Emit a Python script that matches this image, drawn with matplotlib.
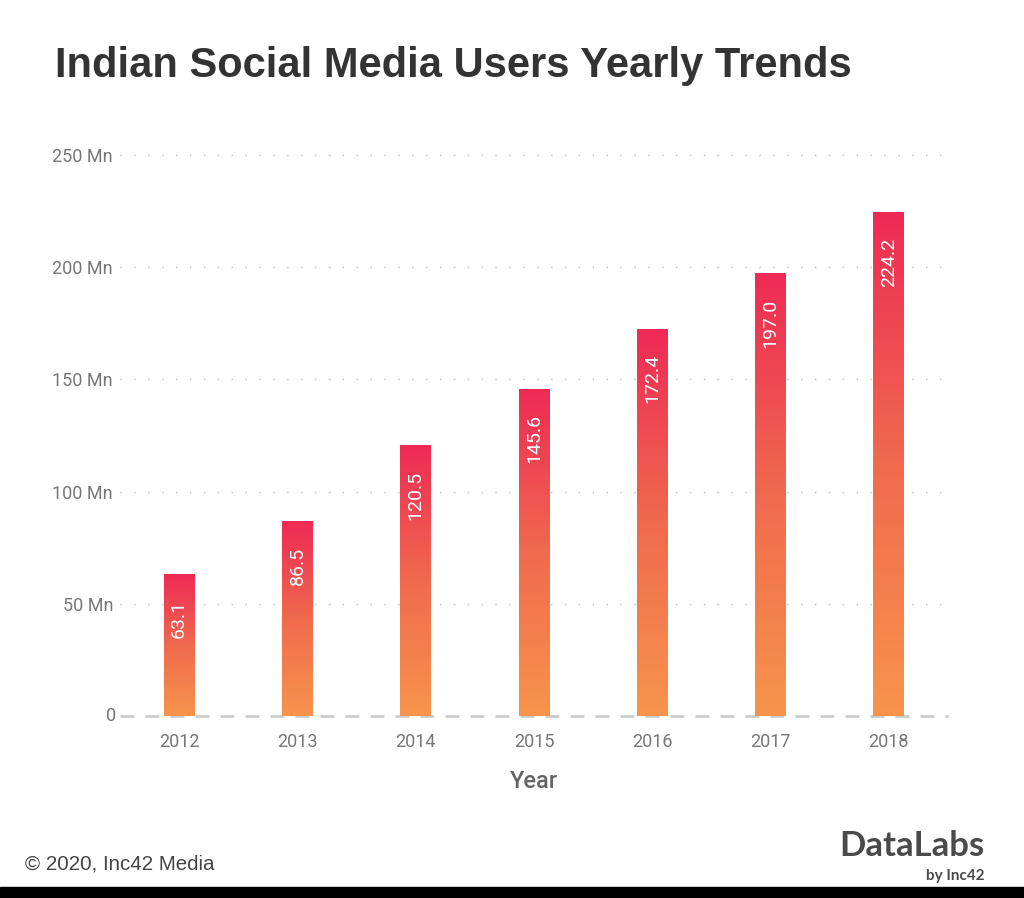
import matplotlib
matplotlib.use("Agg")
import matplotlib.pyplot as plt
import numpy as np
from matplotlib.colors import LinearSegmentedColormap

# ---------------------------------------------------------------------------
# Data
# ---------------------------------------------------------------------------
years = ["2012", "2013", "2014", "2015", "2016", "2017", "2018"]
users_mn = [63.1, 86.5, 120.5, 145.6, 172.4, 197.0, 224.2]
y_ticks = [0, 50, 100, 150, 200, 250]
y_tick_labels = ["0", "50 Mn", "100 Mn", "150 Mn", "200 Mn", "250 Mn"]

TITLE = "Indian Social Media Users Yearly Trends"
GRAD = LinearSegmentedColormap.from_list("bar", ["#F7944C", "#F06A4E", "#EE2A55"])

fig = plt.figure(figsize=(10.24, 8.98), dpi=100)
fig.patch.set_facecolor("white")

# axes placed in pixels: x 120..948, y(0)=716, y(250)=155
H = 898.0
px_per_unit = (716 - 155) / 250.0
ymax = 260
top_px = 716 - ymax * px_per_unit
ax = fig.add_axes([120 / 1024, (H - 716) / H, (948 - 120) / 1024, (716 - top_px) / H])

x = np.arange(len(years))
bar_w = 0.26
grad = np.linspace(0, 1, 256).reshape(-1, 1)

for xi, val in zip(x, users_mn):
    ax.imshow(grad, cmap=GRAD, origin="lower", aspect="auto",
              extent=[xi - bar_w / 2, xi + bar_w / 2, 0, val], zorder=3)
    ax.annotate(f"{val:.1f}", xy=(xi, val), xytext=(0, -25),
                textcoords="offset pixels", ha="center", va="top",
                rotation=90, color="white", fontsize=14, family="Roboto",
                zorder=4)

ax.set_xlim(-0.5, 6.5)
ax.set_ylim(0, ymax)

ax.set_yticks(y_ticks[1:])
ax.set_yticklabels(y_tick_labels[1:])
ax.set_xticks(x)
ax.set_xticklabels(years)
ax.tick_params(axis="both", length=0, labelsize=13, labelcolor="#777777")
ax.tick_params(axis="y", pad=5)
ax.tick_params(axis="x", pad=12)
for lab in ax.get_xticklabels() + ax.get_yticklabels():
    lab.set_family("Roboto")

ax.yaxis.grid(True, linestyle=(0, (1, 9)), color="#bbbbbb", linewidth=1.0)
ax.set_axisbelow(True)
for s in ax.spines.values():
    s.set_visible(False)

# baseline and "0" label
ax.axhline(0, color="#cccccc", linewidth=2, linestyle=(0, (5, 4)), zorder=2,
           clip_on=False)
ax.text(-0.53, 0, "0", ha="right", va="center", fontsize=13, color="#777777",
        family="Roboto", transform=ax.transData)

ax.set_xlabel("Year", fontsize=17, color="#666666", family="Roboto",
              fontweight="medium", labelpad=14)

fig.text(55 / 1024, 1 - 66 / H, TITLE, fontsize=30, fontweight="bold",
         color="#333333", family="Liberation Sans", va="center", ha="left")

fig.text(25 / 1024, 1 - 864 / H, "\u00a9 2020, Inc42 Media", fontsize=14.8,
         color="#444444", family="Liberation Sans", va="center", ha="left")
fig.text(985 / 1024, 1 - 846 / H, "DataLabs", fontsize=25, fontweight="bold",
         color="#4a4a4a", family="Lato", va="center", ha="right")
fig.text(985 / 1024, 1 - 876 / H, "by Inc42", fontsize=11, fontweight="bold",
         color="#4a4a4a", family="Lato", va="center", ha="right")

# black strip at the bottom
fig.patches.append(plt.Rectangle((0, 0), 1, 11 / H, transform=fig.transFigure,
                                 color="black", zorder=5))

fig.savefig("out.png", dpi=100)
